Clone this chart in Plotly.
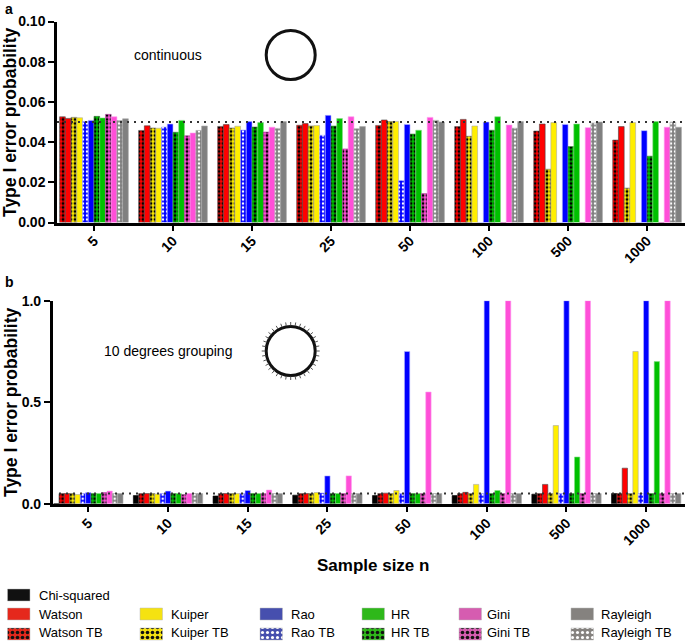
import math
import plotly.graph_objects as go

sizes = ["5", "10", "15", "25", "50", "100", "500", "1000"]

# panel a, continuous
a_watson_tb = [.0526, .0458, .0478, .0484, .0483, .0477, .0455, .0410]
a_watson = [.0518, .0481, .0487, .0492, .0510, .0513, .0490, .0477]
a_kuiper_tb = [.0523, .0470, .0470, .0480, .0502, .0429, .0265, .0171]
a_kuiper = [.0521, .0469, .0479, .0482, .0503, .0480, .0497, .0497]
a_rao_tb = [.0502, .0475, .0460, .0434, .0209, 0, 0, 0]
a_rao = [.0508, .0490, .0502, .0533, .0488, .0500, .0488, .0457]
a_hr_tb = [.0528, .0449, .0475, .0480, .0440, .0459, .0378, .0330]
a_hr = [.0520, .0508, .0497, .0517, .0459, .0526, .0490, .0502]
a_gini_tb = [.0538, .0431, .0450, .0366, .0144, 0, 0, 0]
a_gini = [.0526, .0445, .0474, .0526, .0523, .0485, .0472, .0474]
a_rayleigh_tb = [.0507, .0458, .0468, .0467, .0508, .0469, .0495, .0500]
a_rayleigh = [.0516, .0480, .0502, .0477, .0500, .0502, .0500, .0474]

# panel b, 10 degrees grouping
b_chi = [0, .040, .038, .042, .040, .040, .047, .050]
b_watson_tb = [.05, .05, .05, .05, .05, .05, .05, .05]
b_watson = [.05, .05, .05, .05, .052, .056, .095, .175]
b_kuiper_tb = [.05, .05, .05, .05, .05, .05, .05, .05]
b_kuiper = [.045, .048, .05, .055, .065, .095, .385, .75]
b_rao_tb = [.05, .05, .05, .053, .05, .05, .05, .05]
b_rao = [.055, .062, .065, .137, .75, 1, 1, 1]
b_hr_tb = [.05, .05, .05, .05, .05, .05, .05, .05]
b_hr = [.05, .05, .05, .05, .05, .065, .23, .70]
b_gini_tb = [.055, .045, .05, .05, .05, .05, .05, .05]
b_gini = [.062, .05, .067, .137, .55, 1, 1, 1]
b_rayleigh_tb = [.05, .05, .05, .05, .05, .05, .05, .05]
b_rayleigh = [.05, .05, .05, .05, .05, .05, .05, .05]

W = 685
H = 641
FONT = "Liberation Sans"

BLACK = "#000000"
RED = "#ff0000"
YELLOW = "#ffee00"
BLUE = "#0000ff"
GREEN = "#00c000"
PINK = "#ff4fd8"
GRAY = "#808080"


def dom_x(a, b):
    return [a / W, b / W]


def dom_y(top, bottom):
    return [1 - bottom / H, 1 - top / H]


def bar(vals, name, color, xa, ya, hatch=None, edge=None):
    marker = dict(color=color, line=dict(color=edge or color, width=0.6))
    if hatch:
        solidity = 0.3 if hatch == "#ffffff" else 0.42
        marker["pattern"] = dict(shape=".", fgcolor=hatch, bgcolor=color,
                                 size=4, solidity=solidity, fillmode="replace")
    return go.Bar(x=sizes, y=vals, name=name, marker=marker, xaxis=xa, yaxis=ya,
                  showlegend=False)


fig = go.Figure()

for vals, name, color, hatch, edge in [
    (a_watson_tb, "Watson TB", RED, "#000000", "#555555"),
    (a_watson, "Watson", RED, None, "#444444"),
    (a_kuiper_tb, "Kuiper TB", YELLOW, "#000000", "#666666"),
    (a_kuiper, "Kuiper", YELLOW, None, "#aaaaaa"),
    (a_rao_tb, "Rao TB", BLUE, "#ffffff", "#aaaaff"),
    (a_rao, "Rao", BLUE, None, "#bbbbff"),
    (a_hr_tb, "HR TB", GREEN, "#000000", "#448844"),
    (a_hr, "HR", GREEN, None, "#88dd88"),
    (a_gini_tb, "Gini TB", PINK, "#000000", "#aa4499"),
    (a_gini, "Gini", PINK, None, "#ff99ee"),
    (a_rayleigh_tb, "Rayleigh TB", GRAY, "#ffffff", "#aaaaaa"),
    (a_rayleigh, "Rayleigh", GRAY, None, "#aaaaaa"),
]:
    fig.add_trace(bar(vals, name, color, "x", "y", hatch, edge))

for vals, name, color, hatch, edge in [
    (b_chi, "Chi-squared", BLACK, None, None),
    (b_watson_tb, "Watson TB", RED, "#000000", "#555555"),
    (b_watson, "Watson", RED, None, "#444444"),
    (b_kuiper_tb, "Kuiper TB", YELLOW, "#000000", "#666666"),
    (b_kuiper, "Kuiper", YELLOW, None, "#aaaaaa"),
    (b_rao_tb, "Rao TB", BLUE, "#ffffff", "#aaaaff"),
    (b_rao, "Rao", BLUE, None, "#bbbbff"),
    (b_hr_tb, "HR TB", GREEN, "#000000", "#448844"),
    (b_hr, "HR", GREEN, None, "#88dd88"),
    (b_gini_tb, "Gini TB", PINK, "#000000", "#aa4499"),
    (b_gini, "Gini", PINK, None, "#ff99ee"),
    (b_rayleigh_tb, "Rayleigh TB", GRAY, "#ffffff", "#aaaaaa"),
    (b_rayleigh, "Rayleigh", GRAY, None, "#aaaaaa"),
]:
    fig.add_trace(bar(vals, name, color, "x2", "y2", hatch, edge))

# legend is hand placed, same layout as the figure: solid row then TB row
legend_cols = [
    ("Watson", "#e5281c", 7.5, 36.5),
    ("Kuiper", "#f5e211", 140, 169),
    ("Rao", "#464fae", 260, 289),
    ("HR", "#2eb81a", 362, 389),
    ("Gini", "#d65cb0", 459, 485),
    ("Rayleigh", "#85827f", 571, 599),
]
ann = []


def text(x, y, s, size=13, bold=False, anchor="left", angle=0):
    ann.append(dict(x=x, y=y, xref="x3", yref="y3", text="<b>%s</b>" % s if bold else s,
                    showarrow=False, xanchor=anchor, yanchor="middle", textangle=angle,
                    font=dict(family=FONT, size=size, color="#000000")))


def swatch(x, y, color, hatch=None):
    marker = dict(color=color, line=dict(color="#bbbbbb", width=0.5))
    if hatch:
        solidity = 0.3 if hatch == "#ffffff" else 0.4
        marker["pattern"] = dict(shape=".", fgcolor=hatch, bgcolor=color, size=5,
                                 solidity=solidity, fillmode="replace")
    fig.add_trace(go.Bar(x=[x], y=[12], base=[y - 6], width=[22.5], offset=0, marker=marker,
                         xaxis="x3", yaxis="y3", showlegend=False))


swatch(7.5, 595, "#111111")
text(36.5, 595, "Chi-squared")
for name, color, sx, tx in legend_cols:
    swatch(sx, 614, color)
    text(tx, 614, name)
    swatch(sx, 634, color, "#ffffff" if name in ("Rao", "Rayleigh") else "#111111")
    text(tx, 632.5, name + " TB")

text(3, 9, "a", 14, True)
text(3, 282, "b", 14, True)
text(168, 55, "continuous", 14, anchor="center")
text(168, 351, "10 degrees grouping", 14, anchor="center")
text(10, 122, "Type I error probability", 17.5, True, "center", -90)
text(11, 402, "Type I error probability", 17.5, True, "center", -90)
text(373, 565, "Sample size n", 17, True, "center")

shapes = []
for cy, r in [(55, 24.5), (351, 24.5)]:
    shapes.append(dict(type="circle", xref="x3", yref="y3", x0=290.7 - r, x1=290.7 + r,
                       y0=cy - r, y1=cy + r, line=dict(color="#111111", width=3)))

# grouping marks round the second circle, one every 10 degrees
path = ""
for deg in range(0, 360, 10):
    t = math.radians(deg)
    path += "M%.2f,%.2f L%.2f,%.2f " % (290.7 + 25.5 * math.cos(t), 351 + 25.5 * math.sin(t),
                                        290.7 + 29 * math.cos(t), 351 + 29 * math.sin(t))
shapes.append(dict(type="path", xref="x3", yref="y3", path=path,
                   line=dict(color="#555555", width=1)))

# 0.05 reference lines
shapes.append(dict(type="line", xref="x domain", yref="y", x0=0, x1=1, y0=0.05, y1=0.05,
                   line=dict(color="#333333", width=2, dash="2px,5px")))
shapes.append(dict(type="line", xref="x2 domain", yref="y2", x0=0.01, x1=1, y0=0.05, y1=0.05,
                   line=dict(color="#333333", width=2, dash="2px,5px")))

tickfont = dict(family=FONT, size=14, color="#000000", weight="bold")
axis_style = dict(showline=True, linecolor="#000000", linewidth=2.5, ticks="outside",
                  tickcolor="#000000", tickwidth=2, ticklen=6, showgrid=False, zeroline=False,
                  tickfont=tickfont, automargin=False)

fig.update_layout(
    template="none",
    width=W,
    height=H,
    margin=dict(l=0, r=0, t=0, b=0, pad=0),
    paper_bgcolor="white",
    # the page-wide legend subplot sits on top, so its background has to stay see-through
    plot_bgcolor="rgba(0,0,0,0)",
    barmode="group",
    bargap=0.13,
    bargroupgap=0,
    font=dict(family=FONT),
    annotations=ann,
    shapes=shapes,
    xaxis=dict(domain=dom_x(57, W), range=[-0.468, 7.48], type="category", tickangle=-45,
               anchor="y", ticklabelstandoff=-4, **axis_style),
    yaxis=dict(domain=dom_y(21.5, 222.5), range=[0, 0.1], tickvals=[0, .02, .04, .06, .08, .1],
               tickformat=".2f", anchor="x", **axis_style),
    xaxis2=dict(domain=dom_x(52.7, W), range=[-0.447, 7.487], type="category", tickangle=-45,
                anchor="y2", ticklabelstandoff=-3, **axis_style),
    yaxis2=dict(domain=dom_y(300.7, 503.7), range=[0, 1], tickvals=[0, .5, 1],
                tickformat=".1f", anchor="x2", **axis_style),
    xaxis3=dict(domain=[0, 1], range=[0, W], visible=False, anchor="y3", automargin=False),
    yaxis3=dict(domain=[0, 1], range=[H, 0], visible=False, anchor="x3", automargin=False),
)

# the browser's default body margin would push everything 8px down and right
fig.write_html("out.html", config={"displayModeBar": False},
               post_script="document.body.style.margin='0';")
